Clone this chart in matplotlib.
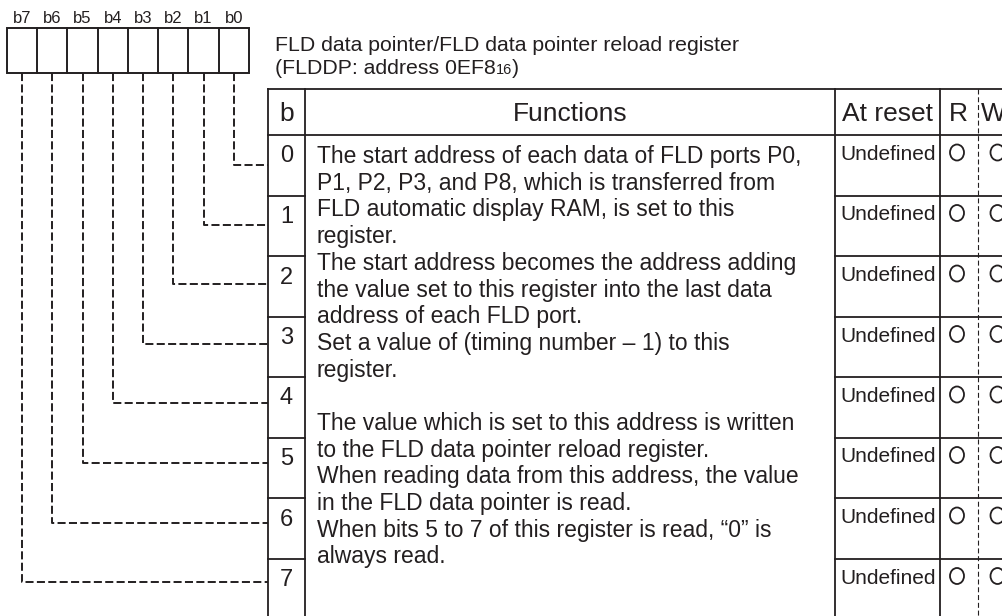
import matplotlib
matplotlib.use("Agg")
import matplotlib.pyplot as plt
import matplotlib.transforms as mtransforms
from matplotlib.patches import Rectangle, Ellipse

plt.rcParams['font.family'] = ['Liberation Sans', 'DejaVu Sans']
plt.rcParams['lines.scale_dashes'] = False

# ---------------- data ----------------
bit_labels = ["b7", "b6", "b5", "b4", "b3", "b2", "b1", "b0"]
row_bits = ["0", "1", "2", "3", "4", "5", "6", "7"]
reset_values = ["Undefined"] * 8
r_marks = [True] * 8
w_marks = [True] * 8
title_line1 = "FLD data pointer/FLD data pointer reload register"
title_line2_main = "(FLDDP: address 0EF8"
title_line2_sub = "16"
title_line2_end = ")"
headers = ["b", "Functions", "At reset", "R", "W"]
function_lines = [
    "The start address of each data of FLD ports P0,",
    "P1, P2, P3, and P8, which is transferred from",
    "FLD automatic display RAM, is set to this",
    "register.",
    "The start address becomes the address adding",
    "the value set to this register into the last data",
    "address of each FLD port.",
    "Set a value of (timing number \u2013 1) to this",
    "register.",
    "",
    "The value which is set to this address is written",
    "to the FLD data pointer reload register.",
    "When reading data from this address, the value",
    "in the FLD data pointer is read.",
    "When bits 5 to 7 of this register is read, \u201c0\u201d is",
    "always read.",
]

# ---------------- figure ----------------
W, H = 1003, 616
fig = plt.figure(figsize=(W / 100, H / 100), dpi=100)
ax = fig.add_axes([0, 0, 1, 1])
ax.set_xlim(0, W)
ax.set_ylim(H, 0)
ax.axis('off')

ink = '#231f20'
lw_box = 1.4

# bit boxes
bx0, bx1, by0, by1 = 7, 249, 28, 73
bw = (bx1 - bx0) / len(bit_labels)
ax.add_patch(Rectangle((bx0, by0), bx1 - bx0, by1 - by0, fill=False,
                       ec=ink, lw=lw_box))
for i, lab in enumerate(bit_labels):
    if i > 0:
        ax.plot([bx0 + i * bw] * 2, [by0, by1], color=ink, lw=lw_box)
    ax.text(bx0 + (i + 0.5) * bw, 23, lab, ha='center', va='baseline',
            fontsize=12, color=ink)

# table geometry
tx_left, tx_b, tx_func, tx_reset, tx_r = 268, 305, 835, 940, 978
ty_top, ty_head = 89, 135
row_h = 60.5
lw_t = 1.3

# connectors (dashed)
n = len(row_bits)
for k in range(n):
    col = n - 1 - k  # bit k sits in box column n-1-k
    xc = bx0 + (col + 0.5) * bw
    yh = 165 + k * 59.6
    ax.plot([xc, xc, tx_left], [by1, yh, yh], color=ink, lw=1.4,
            dashes=(5.8, 2.4), solid_joinstyle='miter')

# table lines
ax.plot([tx_left, W + 5], [ty_top, ty_top], color=ink, lw=lw_t)
ax.plot([tx_left, W + 5], [ty_head, ty_head], color=ink, lw=lw_t)
for x in [tx_left, tx_b, tx_func, tx_reset]:
    ax.plot([x, x], [ty_top, H + 5], color=ink, lw=lw_t)
ax.plot([tx_r, tx_r], [ty_top, H + 5], color=ink, lw=0.8, dashes=(3.6, 2.0))
for k in range(1, n + 1):
    y = ty_head + k * row_h
    ax.plot([tx_left, tx_b], [y, y], color=ink, lw=lw_t)
    ax.plot([tx_func, W + 5], [y, y], color=ink, lw=lw_t)

# title
ax.text(275, 51, title_line1, fontsize=15.3, color=ink, va='baseline')
t2 = ax.text(275, 74, title_line2_main, fontsize=15.3, color=ink, va='baseline')
fig.canvas.draw()
rend = fig.canvas.get_renderer()
bb = t2.get_window_extent(rend)
blend = mtransforms.blended_transform_factory(mtransforms.IdentityTransform(),
                                              ax.transData)
t3 = ax.text(bb.x1, 74, title_line2_sub, fontsize=10.5, color=ink,
             va='baseline', transform=blend)
fig.canvas.draw()
bb3 = t3.get_window_extent(rend)
ax.text(bb3.x1, 74, title_line2_end, fontsize=15.3, color=ink,
        va='baseline', transform=blend)

# headers
hy = 121
ax.text((tx_left + tx_b) / 2, hy, headers[0], ha='center', va='baseline',
        fontsize=19, color=ink)
ax.text((tx_b + tx_func) / 2, hy, headers[1], ha='center', va='baseline',
        fontsize=19, color=ink)
ax.text((tx_func + tx_reset) / 2, hy, headers[2], ha='center', va='baseline',
        fontsize=19, color=ink)
ax.text(958, hy, headers[3], ha='center', va='baseline', fontsize=19, color=ink)
ax.text(981, hy, headers[4], ha='left', va='baseline', fontsize=19, color=ink)

# rows
for k in range(n):
    top = ty_head + k * row_h
    ax.text((tx_left + tx_b) / 2, top + 27.5, row_bits[k], ha='center',
            va='baseline', fontsize=17, color=ink)
    ax.text((tx_func + tx_reset) / 2 + 0.5, top + 25, reset_values[k],
            ha='center', va='baseline', fontsize=15, color=ink)
    if r_marks[k]:
        ax.add_patch(Ellipse((957, top + 17.5), 14, 16, fill=False,
                             ec=ink, lw=1.3))
    if w_marks[k]:
        ax.add_patch(Ellipse((997.5, top + 17.5), 14, 16, fill=False,
                             ec=ink, lw=1.3))

# function text
for i, line in enumerate(function_lines):
    ax.text(317, 163 + i * 26.7, line, ha='left', va='baseline',
            fontsize=16.5, color=ink)

fig.savefig("out.png", dpi=100)
